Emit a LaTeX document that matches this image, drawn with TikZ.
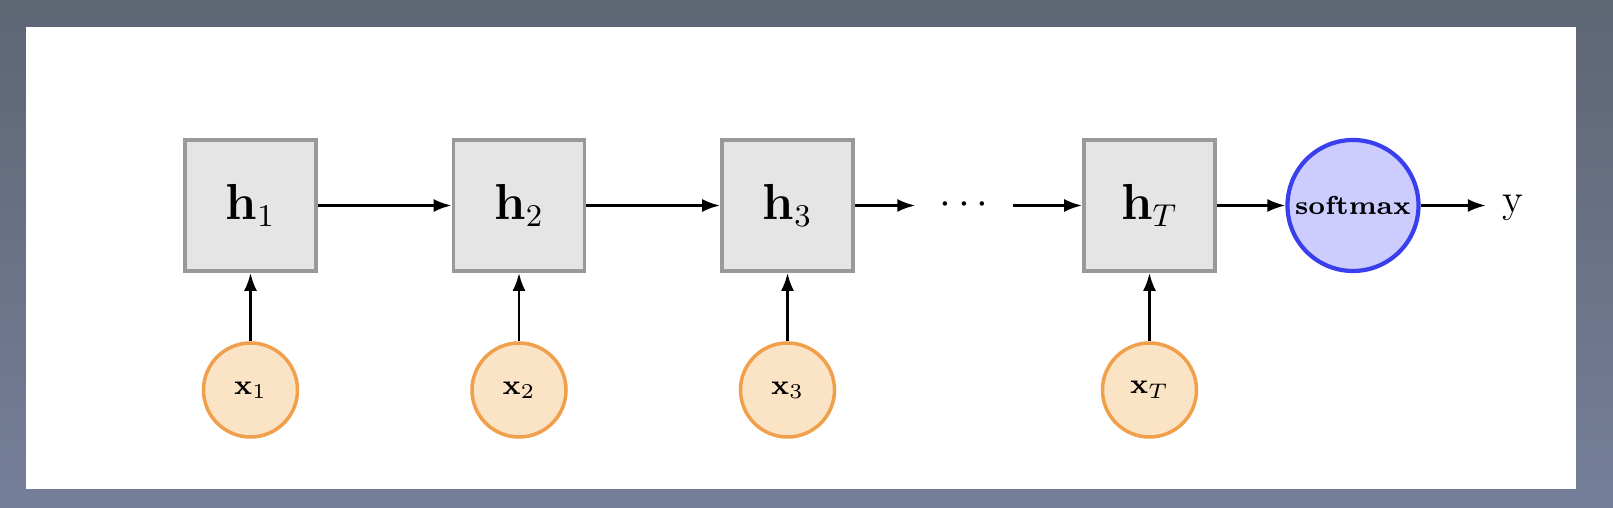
\documentclass[tikz,border=0pt]{standalone}
\usetikzlibrary{arrows.meta}
\definecolor{bgtop}{HTML}{5E6573}
\definecolor{bgbot}{HTML}{767F9A}
\definecolor{inedge}{HTML}{F0A04B}
\definecolor{infill}{HTML}{FBE3C6}
\definecolor{smedge}{HTML}{3A3FEE}
\tikzset{
  hbox/.style={draw=black!40, fill=black!10, line width=1.1pt, minimum size=1.31cm, inner sep=0pt, font=\fontsize{13.5}{15}\selectfont},
  xin/.style={circle, draw=inedge, fill=infill, line width=1pt, minimum size=0.94cm, inner sep=0pt, font=\fontsize{8.5}{10}\selectfont},
  smax/.style={circle, draw=smedge, fill=blue!20, line width=1.2pt, minimum size=1.31cm, inner sep=0pt, font=\fontsize{7.4}{9}\selectfont\bfseries},
  flow/.style={-{Latex[length=0.18cm,width=0.13cm]}, line width=0.7pt}
}
\begin{document}
\begin{tikzpicture}
  % Frame
  \shade[top color=bgtop, bottom color=bgbot] (0,0) rectangle (16.13,5.08);
  \fill[white] (0.26,0.19) rectangle (15.76,4.81);
  % Hidden states with their inputs
  \foreach \i/\x in {1/2.505, 2/5.19, 3/7.875, T/11.495} {
    \node[hbox] (h\i) at (\x,3.025) {$\mathbf{h}_{\i}$};
    \node[xin] (x\i) at (\x,1.18) {$\mathbf{x}_{\i}$};
    \draw[flow] (x\i) -- (h\i);
  }
  \node[minimum width=0.96cm, inner sep=0pt, font=\fontsize{13}{15}\selectfont] (dots) at (9.64,3.025) {$\cdots$};
  % Output
  \node[smax] (sm) at (13.53,3.025) {softmax};
  \node[inner sep=0.16cm, anchor=base, font=\fontsize{11.5}{13}\selectfont] (y) at (15.13,2.95) {y};
  % Recurrence
  \draw[flow] (h1) -- (h2);
  \draw[flow] (h2) -- (h3);
  \draw[flow] (h3) -- (dots);
  \draw[flow] (dots) -- (hT);
  \draw[flow] (hT) -- (sm);
  \draw[flow] (sm.east) -- (sm.east -| y.west);
\end{tikzpicture}
\end{document}
